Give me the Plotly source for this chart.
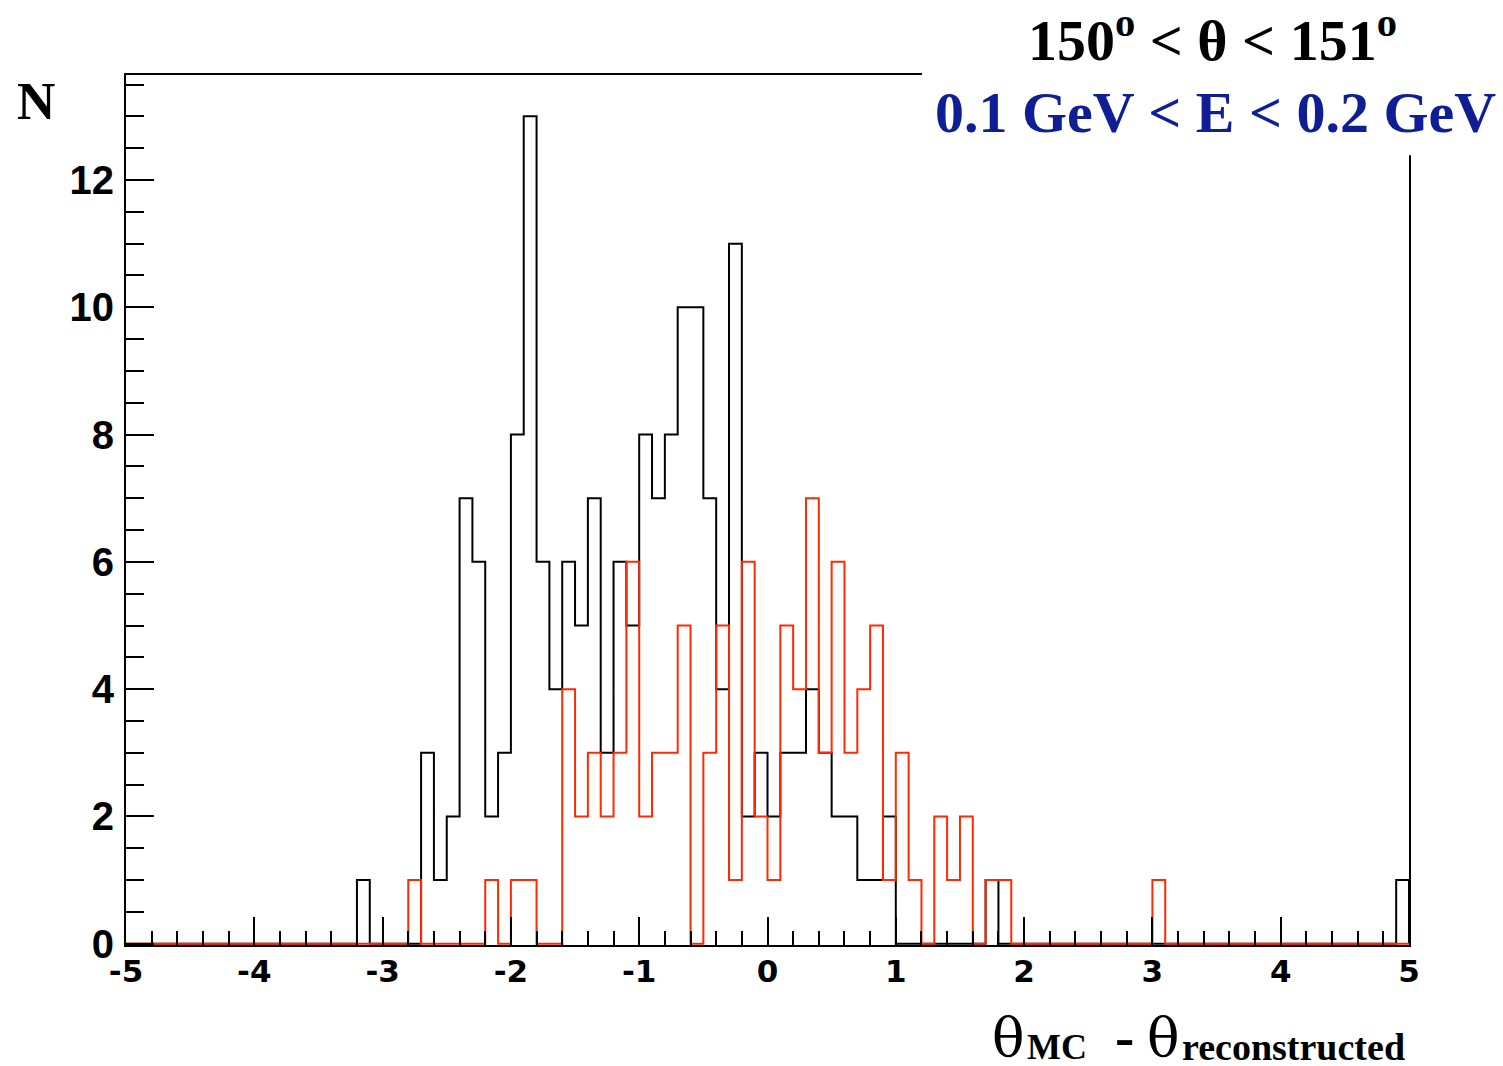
import numpy as np
import plotly.graph_objects as go

# ---- data: 100 bins of width 0.1 from -5 to 5 ----
x_min, x_max, n_bins = -5.0, 5.0, 100

black_counts = [
    0, 0, 0, 0, 0, 0, 0, 0, 0, 0,
    0, 0, 0, 0, 0, 0, 0, 0, 1, 0,
    0, 0, 0, 3, 1, 2, 7, 6, 2, 3,
    8, 13, 6, 4, 6, 5, 7, 3, 6, 5,
    8, 7, 8, 10, 10, 7, 4, 11, 2, 3,
    2, 3, 3, 4, 3, 2, 2, 1, 1, 2,
    0, 0, 0, 0, 0, 0, 0, 1, 0, 0,
    0, 0, 0, 0, 0, 0, 0, 0, 0, 0,
    0, 0, 0, 0, 0, 0, 0, 0, 0, 0,
    0, 0, 0, 0, 0, 0, 0, 0, 0, 1,
]

red_counts = [
    0, 0, 0, 0, 0, 0, 0, 0, 0, 0,
    0, 0, 0, 0, 0, 0, 0, 0, 0, 0,
    0, 0, 1, 0, 0, 0, 0, 0, 1, 0,
    1, 1, 0, 0, 4, 2, 3, 2, 3, 6,
    2, 3, 3, 5, 0, 3, 5, 1, 6, 2,
    1, 5, 4, 7, 3, 6, 3, 4, 5, 1,
    3, 1, 0, 2, 1, 2, 0, 1, 1, 0,
    0, 0, 0, 0, 0, 0, 0, 0, 0, 0,
    1, 0, 0, 0, 0, 0, 0, 0, 0, 0,
    0, 0, 0, 0, 0, 0, 0, 0, 0, 0,
]

x_tick_vals = [-5, -4, -3, -2, -1, 0, 1, 2, 3, 4, 5]
x_tick_labels = ["-5", "-4", "-3", "-2", "-1", "0", "1", "2", "3", "4", "5"]
y_tick_vals = [0, 2, 4, 6, 8, 10, 12]
y_tick_labels = ["0", "2", "4", "6", "8", "10", "12"]

title_line1 = "<b>150<sup>o</sup> &lt; θ &lt; 151<sup>o</sup></b>"
title_line2 = "<b>0.1 GeV &lt; E &lt; 0.2 GeV</b>"
x_title_parts = ["θ", "<b>MC</b>", "<b>-</b>", "θ", "<b>reconstructed</b>"]
y_title = "<b>N</b>"

# ---- geometry ----
W_FIG, H_FIG = 1503, 1066
L, R_PX, T, B = 125.7, 1409.3, 74.7, 945.0
PW, PH = R_PX - L, B - T


def px2x(px):
    return (px - L) / PW


def py2y(py):
    return (B - py) / PH


edges = list(np.linspace(x_min, x_max, n_bins + 1))


def step_xy(counts):
    xs = [edges[0]] + edges + [edges[-1]]
    ys = [0] + list(counts) + [counts[-1], 0]
    return xs, ys


fig = go.Figure()
bx, by = step_xy(black_counts)
fig.add_trace(go.Scatter(x=bx, y=by, mode="lines", line=dict(color="black", width=2, shape="hv"),
                         hoverinfo="skip"))
rx, ry = step_xy(red_counts)
fig.add_trace(go.Scatter(x=rx, y=ry, mode="lines", line=dict(color="#ff2a00", width=2, shape="hv"),
                         hoverinfo="skip"))

fig.update_xaxes(
    range=[x_min, x_max], showgrid=False, zeroline=False,
    showline=True, linecolor="black", linewidth=2, mirror=True,
    ticks="inside", ticklen=28, tickwidth=2, tickcolor="black",
    tickvals=x_tick_vals, ticktext=x_tick_labels,
    tickfont=dict(family="DejaVu Sans", size=31, color="black", weight="bold"),
    ticklabelstandoff=-2,
    minor=dict(dtick=0.2, ticks="inside", ticklen=14, tickwidth=2, tickcolor="black", showgrid=False),
)
fig.update_yaxes(
    range=[-0.02, 13.65], showgrid=False, zeroline=False,
    showline=True, linecolor="black", linewidth=2, mirror=True,
    ticks="inside", ticklen=28, tickwidth=2, tickcolor="black",
    tickvals=y_tick_vals, ticktext=y_tick_labels,
    tickfont=dict(family="Liberation Sans", size=40, color="black", weight="bold"),
    ticklabelstandoff=2,
    minor=dict(dtick=0.5, ticks="inside", ticklen=18, tickwidth=2, tickcolor="black", showgrid=False),
)

serif = "Liberation Serif"
annotations = [
    dict(text=y_title, x=px2x(36), y=py2y(101), xanchor="center", yanchor="middle",
         font=dict(family=serif, size=53, color="black")),
    dict(text=title_line1, x=px2x(1213), y=py2y(36), xanchor="center", yanchor="middle",
         font=dict(family=serif, size=58, color="black")),
    dict(text=title_line2, x=px2x(1216), y=py2y(112), xanchor="center", yanchor="middle",
         font=dict(family=serif, size=58, color="#101e96")),
    # x-axis title pieces
    dict(text=x_title_parts[0], x=px2x(990), y=py2y(1038), xanchor="left", yanchor="middle",
         font=dict(family="DejaVu Serif", size=54, color="black")),
    dict(text=x_title_parts[1], x=px2x(1025), y=py2y(1047), xanchor="left", yanchor="middle",
         font=dict(family=serif, size=36, color="black")),
    dict(text=x_title_parts[2], x=px2x(1113), y=py2y(1037), xanchor="left", yanchor="middle",
         font=dict(family=serif, size=58, color="black")),
    dict(text=x_title_parts[3], x=px2x(1145), y=py2y(1038), xanchor="left", yanchor="middle",
         font=dict(family="DejaVu Serif", size=54, color="black")),
    dict(text=x_title_parts[4], x=px2x(1407), y=py2y(1047), xanchor="right", yanchor="middle",
         font=dict(family=serif, size=38, color="black")),
]
for a in annotations:
    a.update(xref="paper", yref="paper", showarrow=False)

fig.update_layout(
    width=W_FIG, height=H_FIG,
    margin=dict(l=L, r=W_FIG - R_PX, t=T, b=H_FIG - B, pad=0),
    plot_bgcolor="white", paper_bgcolor="white", showlegend=False,
    shapes=[dict(type="rect", xref="paper", yref="paper",
                 x0=px2x(922), x1=px2x(1503), y0=py2y(155), y1=py2y(0),
                 fillcolor="white", line=dict(width=0), layer="above")],
    annotations=annotations,
)

fig.write_html("out.html")
